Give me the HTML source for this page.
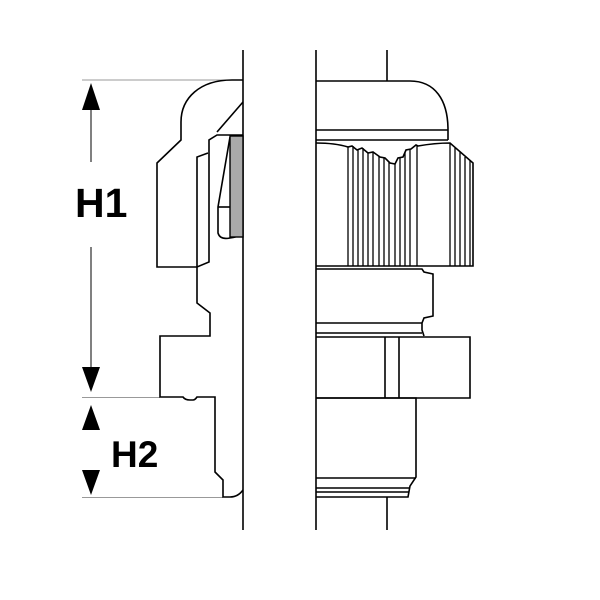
<!DOCTYPE html>
<html><head><style>body{margin:0;background:#fff}svg{display:block}</style></head>
<body>
<svg width="600" height="600" viewBox="0 0 600 600" xmlns="http://www.w3.org/2000/svg">
<g stroke="#999" stroke-width="1" fill="none">
<line x1="82" y1="80" x2="232" y2="80"/>
<line x1="82" y1="397.5" x2="160" y2="397.5"/>
<line x1="82" y1="497.5" x2="223" y2="497.5"/>
</g>
<g stroke="#000" stroke-width="1" fill="none">
<line x1="91" y1="105" x2="91" y2="162"/>
<line x1="91" y1="247" x2="91" y2="370"/>
</g>
<g fill="#000">
<polygon points="91,83 82,110 100,110"/>
<polygon points="91,392 82,367 100,367"/>
<polygon points="91,405 82,430 100,430"/>
<polygon points="91,495 82,470 100,470"/>
</g>
<text x="75" y="217" font-family="Liberation Sans, sans-serif" font-weight="bold" font-size="41">H1</text>
<text x="111" y="467" font-family="Liberation Sans, sans-serif" font-weight="bold" font-size="37">H2</text>

<g stroke="#000" stroke-width="1.6" fill="none" stroke-linejoin="miter">
<!-- main vertical lines -->
<line x1="243" y1="50" x2="243" y2="530"/>
<line x1="316" y1="50" x2="316" y2="530"/>
<line x1="387" y1="50" x2="387" y2="81"/>
<line x1="387" y1="497" x2="387" y2="530"/>

<!-- left section -->
<path d="M243,80 L232,80 C200,80 181,98 181,122 L181,140 L157,163 L157,267 L197,267 L209,262 L209,140 L217,135 L243,135"/>
<path d="M243,102 L217,132"/>
<path d="M197,267 L197,157 L208,153"/>
<path d="M197,267 L197,303 L210,313 L210,336 L160,336 L160,397 L183,397 Q185,400 190,400 L193,400 Q195,400 197,397 L215,397 L215,472 L223,480 L223,497 L230,497 Q238,497 243,490"/>
<path d="M230,137 L218,207 L218,233 Q220,240 230,238 Q238,237 243,234"/>
<line x1="218" y1="207" x2="230" y2="207"/>

<!-- right: cap -->
<path d="M316,81 L410,81 C435,81 448,100 448,130 L448,140"/>
<line x1="316" y1="130" x2="448" y2="130"/>
<line x1="316" y1="140" x2="448" y2="140"/>
<!-- nut -->
<path d="M316,143 Q335,143 348,147 L352,146 L357,150 L362,148 L368,153 L373,152 L380,157 L385,158 L390,163 L395,164 L398,158 L403,157 L406,150 L411,149 L416,145 L418,146 Q435,143 450,143 L473,163 L473,266 L316,266"/>
<g stroke-width="1.3">
<line x1="348" y1="147" x2="348" y2="266"/><line x1="353" y1="146" x2="353" y2="266"/>
<line x1="358" y1="150" x2="358" y2="266"/><line x1="363" y1="148" x2="363" y2="266"/>
<line x1="368" y1="153" x2="368" y2="266"/><line x1="373" y1="152" x2="373" y2="266"/>
<line x1="379" y1="156" x2="379" y2="266"/><line x1="384" y1="158" x2="384" y2="266"/>
<line x1="389" y1="162" x2="389" y2="266"/><line x1="395" y1="164" x2="395" y2="266"/>
<line x1="400" y1="158" x2="400" y2="266"/><line x1="405" y1="153" x2="405" y2="266"/>
<line x1="410" y1="149" x2="410" y2="266"/><line x1="417" y1="145" x2="417" y2="266"/>
<line x1="450" y1="143" x2="450" y2="266"/><line x1="455" y1="148" x2="455" y2="266"/>
<line x1="460" y1="152" x2="460" y2="266"/><line x1="465" y1="157" x2="465" y2="266"/>
<line x1="470" y1="161" x2="470" y2="266"/>
</g>
<!-- middle body -->
<path d="M316,269 L422,269 L424,272 L433,274 L433,316 L424,318 L422,323 L422,330 L424,336"/>
<line x1="316" y1="323" x2="422" y2="323"/>
<line x1="316" y1="333" x2="422" y2="333"/>
<!-- hex -->
<path d="M316,337 L470,337 L470,398 L316,398"/>
<line x1="385" y1="337" x2="385" y2="398"/>
<line x1="399" y1="337" x2="399" y2="398"/>
<!-- thread -->
<path d="M316,398 L416,398 L416,477 L410,486 L408,497 L316,497"/>
<line x1="316" y1="478" x2="416" y2="478"/>
<line x1="316" y1="488" x2="410" y2="488"/>
<line x1="316" y1="492" x2="409" y2="492"/>
</g>
<rect x="230" y="136" width="13" height="101" fill="#aaa" stroke="#000" stroke-width="1.4"/>
</svg>
</body></html>
